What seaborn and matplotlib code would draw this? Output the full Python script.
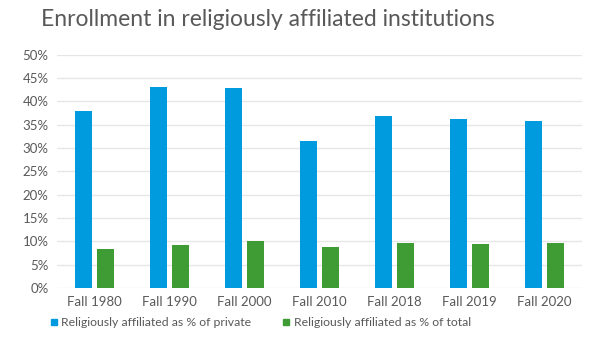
import seaborn as sns
import matplotlib.pyplot as plt
import pandas as pd
from matplotlib.ticker import FuncFormatter
from matplotlib.patches import Patch

sns.set_style('white')
plt.rcParams['font.family'] = ['Lato', 'DejaVu Sans']

years = ['Fall 1980', 'Fall 1990', 'Fall 2000', 'Fall 2010', 'Fall 2018', 'Fall 2019', 'Fall 2020']
pct_private = [38.0, 43.1, 42.9, 31.6, 36.8, 36.2, 35.8]
pct_total = [8.4, 9.3, 10.1, 8.8, 9.6, 9.5, 9.7]
series = ['Religiously affiliated as % of private', 'Religiously affiliated as % of total']
colors = ['#009bdf', '#3f9c35']

df = pd.DataFrame({'year': years * 2,
                   'value': pct_private + pct_total,
                   'series': [series[0]] * 7 + [series[1]] * 7})

fig = plt.figure(figsize=(6, 3.5), dpi=100)
ax = fig.add_axes([0.095, 0.177, 0.875, 0.667])
sns.barplot(data=df, x='year', y='value', hue='series', palette=colors,
            width=0.57, gap=0.2, ax=ax, legend=False, edgecolor='none',
            saturation=1)

ax.set_ylim(0, 50)
ax.set_xlim(-0.5, 6.5)
ax.set_yticks(range(0, 51, 5))
ax.yaxis.set_major_formatter(FuncFormatter(lambda v, p: f'{int(v)}%'))
ax.grid(axis='y', color='#e6e6e6', linewidth=1)
ax.set_axisbelow(True)
for s in ax.spines.values():
    s.set_visible(False)
ax.tick_params(axis='both', length=0, labelsize=9.5, colors='#595959', pad=6)
ax.set_xlabel('')
ax.set_ylabel('')

fig.text(0.068, 0.945, 'Enrollment in religiously affiliated institutions',
         fontsize=16.5, color='#595959', va='center', ha='left')

handles = [Patch(color=c, label=l) for c, l in zip(colors, series)]
fig.legend(handles=handles, loc='center', bbox_to_anchor=(0.435, 0.078), ncol=2,
           frameon=False, fontsize=8.8, handlelength=0.45, handleheight=0.45,
           handletextpad=0.4, columnspacing=2.6, labelcolor='#595959')

fig.savefig('out.png', dpi=100)
